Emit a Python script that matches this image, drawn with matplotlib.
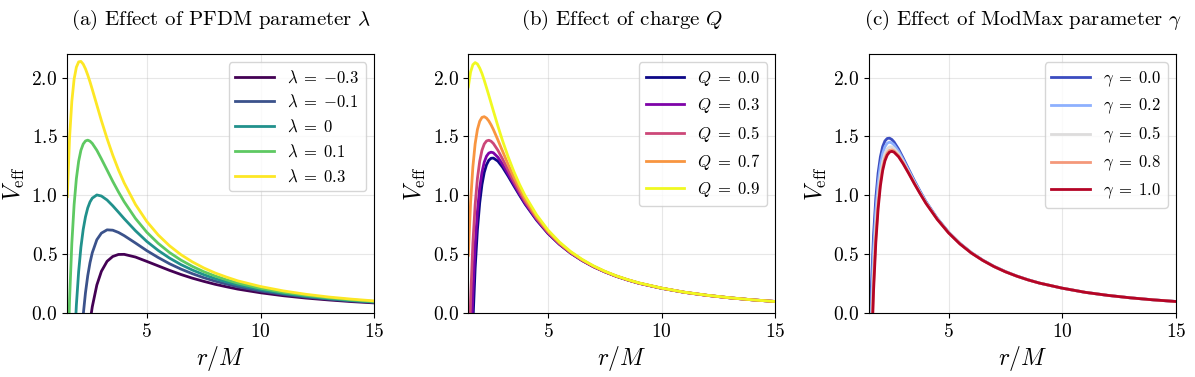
import matplotlib
matplotlib.use("Agg")
import matplotlib.pyplot as plt
import numpy as np

plt.rcParams.update({
    "font.family": "serif",
    "font.serif": ["cmr10"],
    "mathtext.fontset": "cm",
    "axes.formatter.use_mathtext": True,
    "axes.unicode_minus": True,
})

# ---------------- data ----------------
r = [1.5, 1.6, 1.7, 1.8, 1.9, 2.0, 2.1, 2.2, 2.3, 2.4, 2.5, 2.6, 2.8, 3.0, 3.25, 3.5,
     3.75, 4.0, 4.5, 5.0, 5.5, 6.0, 6.5, 7.0, 7.5, 8.0, 8.5, 9.0, 10.0, 11.0, 12.0,
     13.0, 14.0, 15.0]

# Panel (a): PFDM parameter lambda
lam_labels = [r"$\lambda\;=\;{-}0.3$", r"$\lambda\;=\;{-}0.1$", r"$\lambda\;=\;0$",
              r"$\lambda\;=\;0.1$", r"$\lambda\;=\;0.3$"]
V_lam_m03 = [-6.16, -4.64, -3.50, -2.62, -1.948, -1.425, -1.016, -0.693, -0.437, -0.234,
             -0.073, 0.056, 0.240, 0.356, 0.441, 0.482, 0.499, 0.500, 0.477, 0.440,
             0.402, 0.364, 0.329, 0.298, 0.271, 0.246, 0.225, 0.205, 0.174, 0.149,
             0.129, 0.113, 0.099, 0.088]
V_lam_m01 = [-4.59, -3.27, -2.29, -1.557, -1.003, -0.583, -0.261, -0.015, 0.174, 0.319,
             0.430, 0.514, 0.624, 0.680, 0.708, 0.705, 0.686, 0.659, 0.596, 0.531,
             0.473, 0.420, 0.375, 0.336, 0.302, 0.273, 0.248, 0.225, 0.189, 0.161,
             0.138, 0.120, 0.105, 0.093]
V_lam_0 = [-2.587, -1.578, -0.849, -0.319, 0.070, 0.354, 0.561, 0.711, 0.818, 0.894,
           0.945, 0.977, 1.004, 0.995, 0.961, 0.912, 0.858, 0.803, 0.700, 0.609,
           0.533, 0.468, 0.413, 0.367, 0.328, 0.294, 0.266, 0.241, 0.201, 0.169,
           0.145, 0.125, 0.109, 0.096]
V_lam_p01 = [-0.581, 0.114, 0.593, 0.920, 1.143, 1.290, 1.383, 1.436, 1.462, 1.469,
             1.460, 1.441, 1.383, 1.310, 1.215, 1.119, 1.030, 0.947, 0.804, 0.687,
             0.593, 0.515, 0.451, 0.398, 0.353, 0.316, 0.284, 0.256, 0.212, 0.178,
             0.152, 0.131, 0.114, 0.100]
V_lam_p03 = [0.990, 1.487, 1.798, 1.986, 2.088, 2.133, 2.137, 2.114, 2.074, 2.022,
             1.963, 1.899, 1.767, 1.635, 1.482, 1.342, 1.217, 1.107, 0.923, 0.778,
             0.664, 0.572, 0.497, 0.436, 0.385, 0.342, 0.307, 0.275, 0.227, 0.190,
             0.161, 0.138, 0.120, 0.105]

# Panel (b): charge Q
Q_labels = [r"$Q\;=\;0.0$", r"$Q\;=\;0.3$", r"$Q\;=\;0.5$", r"$Q\;=\;0.7$", r"$Q\;=\;0.9$"]
V_Q_00 = [-1.698, -0.749, -0.085, 0.382, 0.709, 0.936, 1.092, 1.195, 1.260, 1.298,
          1.315, 1.317, 1.291, 1.241, 1.164, 1.082, 1.002, 0.925, 0.791, 0.678,
          0.586, 0.510, 0.448, 0.395, 0.352, 0.314, 0.283, 0.255, 0.212, 0.178,
          0.152, 0.131, 0.114, 0.100]
V_Q_03 = [-1.296, -0.438, 0.159, 0.576, 0.865, 1.063, 1.197, 1.282, 1.333, 1.359,
          1.367, 1.362, 1.324, 1.266, 1.182, 1.096, 1.012, 0.933, 0.796, 0.681,
          0.588, 0.512, 0.449, 0.396, 0.352, 0.315, 0.283, 0.255, 0.212, 0.178,
          0.152, 0.131, 0.114, 0.100]
V_Q_05 = [-0.581, 0.114, 0.592, 0.921, 1.143, 1.289, 1.383, 1.436, 1.462, 1.468,
          1.460, 1.441, 1.383, 1.311, 1.215, 1.120, 1.031, 0.947, 0.805, 0.687,
          0.592, 0.514, 0.451, 0.397, 0.353, 0.315, 0.284, 0.256, 0.213, 0.178,
          0.152, 0.131, 0.114, 0.100]
V_Q_07 = [0.492, 0.943, 1.242, 1.438, 1.559, 1.629, 1.662, 1.668, 1.656, 1.632,
          1.599, 1.560, 1.471, 1.378, 1.263, 1.156, 1.058, 0.968, 0.818, 0.696,
          0.598, 0.519, 0.454, 0.400, 0.355, 0.317, 0.285, 0.257, 0.213, 0.179,
          0.153, 0.131, 0.114, 0.100]
V_Q_09 = [1.921, 2.047, 2.109, 2.127, 2.115, 2.081, 2.035, 1.977, 1.914, 1.850,
          1.784, 1.718, 1.589, 1.467, 1.328, 1.204, 1.094, 0.997, 0.836, 0.707,
          0.606, 0.524, 0.458, 0.403, 0.357, 0.318, 0.286, 0.258, 0.214, 0.179,
          0.153, 0.132, 0.114, 0.100]

# Panel (c): ModMax parameter gamma
g_labels = [r"$\gamma\;=\;0.0$", r"$\gamma\;=\;0.2$", r"$\gamma\;=\;0.5$",
            r"$\gamma\;=\;0.8$", r"$\gamma\;=\;1.0$"]
V_g_00 = [-0.463, 0.205, 0.663, 0.977, 1.189, 1.327, 1.414, 1.462, 1.483, 1.486,
          1.475, 1.454, 1.393, 1.318, 1.220, 1.124, 1.034, 0.949, 0.806, 0.688,
          0.593, 0.515, 0.451, 0.398, 0.354, 0.316, 0.284, 0.256, 0.213, 0.178,
          0.152, 0.131, 0.114, 0.100]
V_g_02 = [-0.687, 0.032, 0.528, 0.869, 1.102, 1.256, 1.355, 1.413, 1.443, 1.452,
          1.446, 1.429, 1.374, 1.304, 1.210, 1.116, 1.028, 0.945, 0.803, 0.686,
          0.592, 0.514, 0.451, 0.397, 0.353, 0.315, 0.284, 0.256, 0.213, 0.178,
          0.152, 0.131, 0.114, 0.100]
V_g_05 = [-0.949, -0.171, 0.369, 0.743, 1.000, 1.173, 1.287, 1.357, 1.395, 1.412,
          1.412, 1.400, 1.353, 1.288, 1.198, 1.107, 1.021, 0.940, 0.800, 0.684,
          0.590, 0.513, 0.450, 0.397, 0.353, 0.315, 0.283, 0.256, 0.213, 0.178,
          0.152, 0.131, 0.114, 0.100]
V_g_08 = [-1.143, -0.321, 0.251, 0.649, 0.924, 1.111, 1.236, 1.315, 1.360, 1.383,
          1.387, 1.378, 1.337, 1.276, 1.189, 1.101, 1.016, 0.936, 0.798, 0.682,
          0.589, 0.512, 0.449, 0.396, 0.352, 0.315, 0.283, 0.256, 0.213, 0.178,
          0.152, 0.131, 0.114, 0.100]
V_g_10 = [-1.244, -0.398, 0.190, 0.601, 0.885, 1.080, 1.210, 1.293, 1.342, 1.367,
          1.374, 1.367, 1.328, 1.269, 1.185, 1.097, 1.014, 0.934, 0.797, 0.682,
          0.588, 0.511, 0.449, 0.396, 0.352, 0.315, 0.283, 0.256, 0.213, 0.178,
          0.152, 0.131, 0.114, 0.100]

titles = [r"(a) Effect of PFDM parameter $\lambda$",
          r"(b) Effect of charge $Q$",
          r"(c) Effect of ModMax parameter $\gamma$"]

panels = [
    (titles[0], [V_lam_m03, V_lam_m01, V_lam_0, V_lam_p01, V_lam_p03], lam_labels, "viridis"),
    (titles[1], [V_Q_00, V_Q_03, V_Q_05, V_Q_07, V_Q_09], Q_labels, "plasma"),
    (titles[2], [V_g_00, V_g_02, V_g_05, V_g_08, V_g_10], g_labels, "coolwarm"),
]

fig = plt.figure(figsize=(11.95, 3.77), dpi=100)
lefts = [0.0563, 0.3919, 0.7272]
for left, (title, series, labels, cmap_name) in zip(lefts, panels):
    ax = fig.add_axes([left, 0.1690, 0.2569, 0.6878])
    cmap = plt.get_cmap(cmap_name)
    colors = cmap(np.linspace(0, 1, len(series)))
    for vals, lab, c in zip(series, labels, colors):
        ax.plot(r, vals, color=c, lw=2.0, label=lab)
    ax.set_xlim(1.5, 15)
    ax.set_ylim(0, 2.2)
    ax.set_xticks([5, 10, 15])
    ax.set_yticks([0.0, 0.5, 1.0, 1.5, 2.0])
    ax.tick_params(labelsize=14)
    ax.grid(True, alpha=0.3)
    ax.set_xlabel(r"$r/M$", fontsize=17, labelpad=2)
    ax.set_ylabel(r"$V_{\rm eff}$", fontsize=17, labelpad=3)
    ax.set_title(title, fontsize=15, pad=21)
    ax.legend(loc="upper right", fontsize=12, handlelength=2.3)

fig.savefig("out.png", dpi=100)
